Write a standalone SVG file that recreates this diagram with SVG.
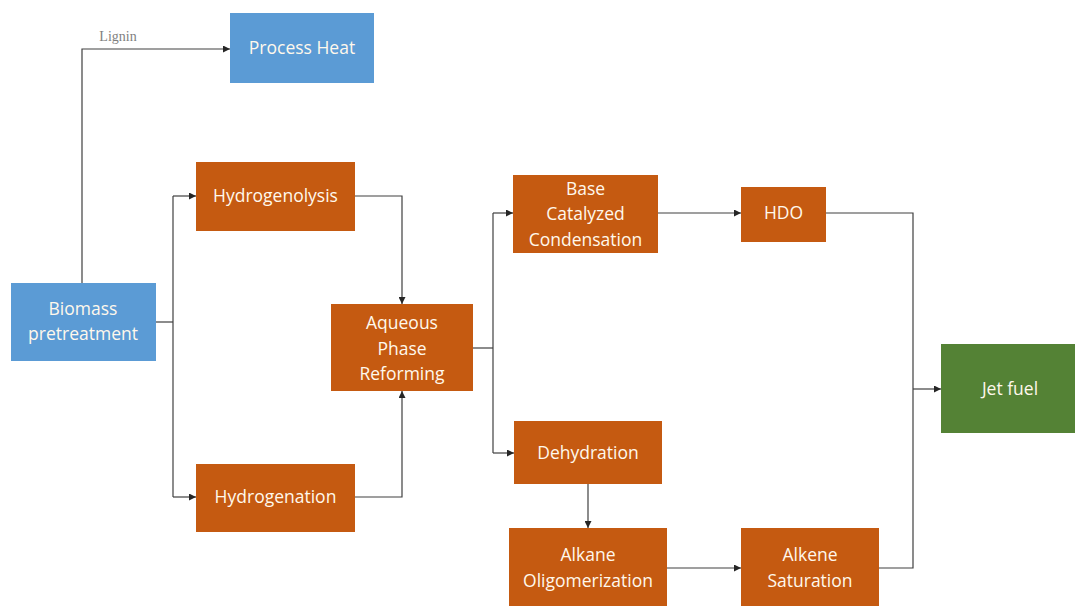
<svg xmlns="http://www.w3.org/2000/svg" width="1075" height="606" viewBox="0 0 1075 606">
  <defs>
    <marker id="arrow" viewBox="0 0 10 10" refX="10" refY="5" markerWidth="7" markerHeight="7" markerUnits="userSpaceOnUse" orient="auto">
      <path d="M0,0 L10,5 L0,10 z" fill="#262626"/>
    </marker>
    <style>
      .blue { fill: #5B9BD5; }
      .orange { fill: #C55A11; }
      .green { fill: #548235; }
      .label { font-family: "Open Sans", "Noto Sans", sans-serif; font-size: 17.5px; fill: #FFF8EC; text-anchor: middle; }
      .conn { fill: none; stroke: #404040; stroke-width: 1.2; }
      .note { font-family: "Liberation Serif", serif; font-size: 14px; fill: #7F7F7F; text-anchor: middle; }
    </style>
  </defs>
  <rect width="1075" height="606" fill="#FFFFFF"/>

  <!-- connectors -->
  <g id="connectors">
    <path class="conn" d="M82,283 V49 H230" marker-end="url(#arrow)"/>
    <text class="note" x="118" y="41">Lignin</text>
    <path class="conn" d="M156,322 H173"/>
    <path class="conn" d="M173,196 V497"/>
    <path class="conn" d="M173,196 H196" marker-end="url(#arrow)"/>
    <path class="conn" d="M173,497 H196" marker-end="url(#arrow)"/>
    <path class="conn" d="M355,196 H402 V304" marker-end="url(#arrow)"/>
    <path class="conn" d="M355,497 H402 V391" marker-end="url(#arrow)"/>
    <path class="conn" d="M473,348 H493"/>
    <path class="conn" d="M493,213 V453"/>
    <path class="conn" d="M493,213 H513" marker-end="url(#arrow)"/>
    <path class="conn" d="M493,453 H514" marker-end="url(#arrow)"/>
    <path class="conn" d="M658,213 H741" marker-end="url(#arrow)"/>
    <path class="conn" d="M588,484 V528" marker-end="url(#arrow)"/>
    <path class="conn" d="M667,568 H741" marker-end="url(#arrow)"/>
    <path class="conn" d="M826,213 H913 V568 H879"/>
    <path class="conn" d="M913,389 H941" marker-end="url(#arrow)"/>
  </g>

  <g id="process-heat">
    <rect class="blue" x="230" y="13" width="144" height="70"/>
    <text class="label" x="302" y="54">Process Heat</text>
  </g>

  <g id="biomass-pretreatment">
    <rect class="blue" x="11" y="283" width="145" height="78"/>
    <text class="label" x="83" y="315">Biomass</text>
    <text class="label" x="83" y="340">pretreatment</text>
  </g>

  <g id="hydrogenolysis">
    <rect class="orange" x="196" y="162" width="159" height="69"/>
    <text class="label" x="275.5" y="202">Hydrogenolysis</text>
  </g>

  <g id="hydrogenation">
    <rect class="orange" x="196" y="464" width="159" height="68"/>
    <text class="label" x="275.5" y="503">Hydrogenation</text>
  </g>

  <g id="aqueous-phase-reforming">
    <rect class="orange" x="331" y="304" width="142" height="87"/>
    <text class="label" x="402" y="329">Aqueous</text>
    <text class="label" x="402" y="355">Phase</text>
    <text class="label" x="402" y="380">Reforming</text>
  </g>

  <g id="base-catalyzed-condensation">
    <rect class="orange" x="513" y="175" width="145" height="78"/>
    <text class="label" x="585.5" y="195">Base</text>
    <text class="label" x="585.5" y="220">Catalyzed</text>
    <text class="label" x="585.5" y="246">Condensation</text>
  </g>

  <g id="hdo">
    <rect class="orange" x="741" y="187" width="85" height="55"/>
    <text class="label" x="783.5" y="219">HDO</text>
  </g>

  <g id="dehydration">
    <rect class="orange" x="514" y="421" width="148" height="63"/>
    <text class="label" x="588" y="459">Dehydration</text>
  </g>

  <g id="alkane-oligomerization">
    <rect class="orange" x="509" y="528" width="158" height="90"/>
    <text class="label" x="588" y="561">Alkane</text>
    <text class="label" x="588" y="587">Oligomerization</text>
  </g>

  <g id="alkene-saturation">
    <rect class="orange" x="741" y="528" width="138" height="90"/>
    <text class="label" x="810" y="561">Alkene</text>
    <text class="label" x="810" y="587">Saturation</text>
  </g>

  <g id="jet-fuel">
    <rect class="green" x="941" y="344" width="134" height="89"/>
    <text class="label" x="1010" y="395">Jet fuel</text>
  </g>
</svg>
